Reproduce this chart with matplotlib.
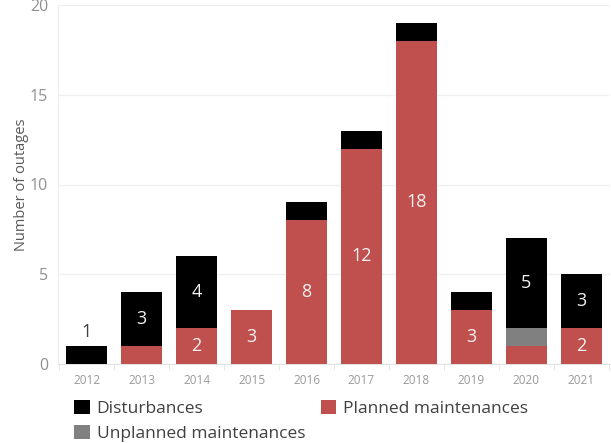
import numpy as np
import matplotlib.pyplot as plt

plt.rcParams['font.family'] = ['Open Sans', 'DejaVu Sans']

# Dados
years = ['2012', '2013', '2014', '2015', '2016', '2017', '2018', '2019', '2020', '2021']
planned = [0, 1, 2, 3, 8, 12, 18, 3, 1, 2]
unplanned = [0, 0, 0, 0, 0, 0, 0, 0, 1, 0]
disturbances = [1, 3, 4, 0, 1, 1, 1, 1, 5, 3]

c_planned = '#C0504D'
c_unplanned = '#808080'
c_dist = '#000000'

fig = plt.figure(figsize=(6.11, 4.43), dpi=100)
ax = fig.add_axes([58 / 611, 1 - 364 / 443, 552 / 611, 359 / 443])

x = np.arange(len(years))
w = 0.74
planned = np.array(planned)
unplanned = np.array(unplanned)
disturbances = np.array(disturbances)

series = [
    ('Planned maintenances', planned, c_planned),
    ('Unplanned maintenances', unplanned, c_unplanned),
    ('Disturbances', disturbances, c_dist),
]

bottom = np.zeros(len(years))
handles = {}
totals = planned + unplanned + disturbances
for name, vals, col in series:
    bars = ax.bar(x, vals, w, bottom=bottom, color=col, label=name, zorder=3)
    handles[name] = bars
    for xi, v, b in zip(x, vals, bottom):
        if v >= 2:
            ax.text(xi, b + v / 2, str(v), ha='center', va='center',
                    color='#f2f2f2', fontsize=13, zorder=4)
        elif v > 0 and totals[xi] == v:
            # barra sozinha e pequena: rótulo acima
            ax.text(xi, b + v + 0.3, str(v), ha='center', va='bottom',
                    color='#404040', fontsize=13, zorder=4)
    bottom = bottom + vals

ax.set_xlim(-0.52, len(years) - 0.48)
ax.set_ylim(0, 20)
ax.set_yticks([0, 5, 10, 15, 20])
ax.set_xticks(x)
ax.set_xticklabels(years)
ax.set_xticks(np.arange(-0.5, len(years), 1), minor=True)

ax.grid(axis='y', color='#f0f0f0', linewidth=1, zorder=0)
for s in ['top', 'right']:
    ax.spines[s].set_visible(False)
ax.spines['left'].set_color('#eeeeee')
ax.spines['bottom'].set_color('#e4e4e4')
ax.tick_params(axis='y', length=0, pad=7, labelsize=11.5, labelcolor='#909090')
ax.tick_params(axis='x', which='major', length=0, pad=7, labelsize=8.5, labelcolor='#999999')
ax.tick_params(axis='x', which='minor', length=4, color='#e4e4e4')
ax.set_ylabel('Number of outages', fontsize=10.5, color='#595959', labelpad=1)

# ordem por colunas para que a primeira linha seja Disturbances / Planned
order = ['Disturbances', 'Unplanned maintenances', 'Planned maintenances']
fig.legend([handles[n] for n in order], order, loc='upper left',
           bbox_to_anchor=(74 / 611, 1 - 400 / 443), ncol=2, frameon=False,
           fontsize=12.5, handlelength=0.9, handleheight=0.9, handletextpad=0.4,
           columnspacing=0.9, labelspacing=0.45, labelcolor='#404040',
           borderaxespad=0, borderpad=0)

fig.savefig('out.png', dpi=100)
